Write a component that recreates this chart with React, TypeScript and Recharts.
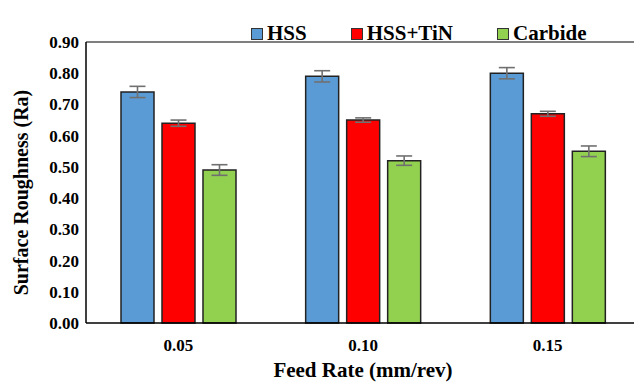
import { BarChart, Bar, XAxis, YAxis, ErrorBar, Legend, ReferenceLine } from "recharts";

const feedRates = ["0.05", "0.10", "0.15"];
const hss = [0.74, 0.79, 0.8];
const hssTin = [0.64, 0.65, 0.67];
const carbide = [0.49, 0.52, 0.55];
const hssErr = [0.018, 0.018, 0.018];
const hssTinErr = [0.01, 0.007, 0.008];
const carbideErr = [0.017, 0.015, 0.017];
const yTicks = [0, 0.1, 0.2, 0.3, 0.4, 0.5, 0.6, 0.7, 0.8, 0.9];

const SERIES = [
  { key: "hss", err: "hssErr", name: "HSS", color: "#5B9BD5" },
  { key: "hssTin", err: "hssTinErr", name: "HSS+TiN", color: "#FF0000" },
  { key: "carbide", err: "carbideErr", name: "Carbide", color: "#92D050" },
];

const data = feedRates.map((f, i) => ({
  feed: f,
  hss: hss[i],
  hssTin: hssTin[i],
  carbide: carbide[i],
  hssErr: hssErr[i],
  hssTinErr: hssTinErr[i],
  carbideErr: carbideErr[i],
}));

const font = "Liberation Serif";

function LegendContent() {
  return (
    <div style={{ display: "flex", gap: 44, fontFamily: font, fontWeight: "bold", fontSize: 21 }}>
      {SERIES.map((s) => (
        <div key={s.key} style={{ display: "flex", alignItems: "center" }}>
          <span
            style={{
              width: 10,
              height: 10,
              background: s.color,
              border: "1px solid #333",
              marginRight: 4,
              display: "inline-block",
            }}
          />
          <span>{s.name}</span>
        </div>
      ))}
    </div>
  );
}

// rotated y title, sits a bit below the plot centre like the original
function YTitle({ viewBox }: any) {
  const x = 28;
  const y = viewBox.y + viewBox.height / 2 + 10;
  return (
    <text
      x={x}
      y={y}
      transform={`rotate(-90, ${x}, ${y})`}
      textAnchor="middle"
      fill="#000"
      fontFamily={font}
      fontWeight="bold"
      fontSize={20}
    >
      Surface Roughness (Ra)
    </text>
  );
}

export default function App() {
  return (
    <div
      style={{
        position: "absolute",
        left: 0,
        top: 0,
        width: 634,
        height: 383,
        overflow: "hidden",
        background: "#fff",
        fontFamily: font,
      }}
    >
      <BarChart
        width={640}
        height={383}
        data={data}
        margin={{ top: 17, right: 0, left: 0, bottom: 0 }}
        barSize={33}
        barGap={8}
      >
        <ReferenceLine y={0.9} stroke="#000" strokeWidth={1.2} />
        <XAxis
          dataKey="feed"
          height={60}
          axisLine={{ stroke: "#000", strokeWidth: 1.5 }}
          tickLine={false}
          tick={{ fill: "#000", fontFamily: font, fontWeight: "bold", fontSize: 17 }}
          tickMargin={10}
          label={{
            value: "Feed Rate (mm/rev)",
            position: "insideBottom",
            offset: 6,
            fill: "#000",
            fontFamily: font,
            fontWeight: "bold",
            fontSize: 21,
          }}
        />
        <YAxis
          width={86}
          domain={[0, 0.9]}
          ticks={yTicks}
          interval={0}
          tickFormatter={(v: number) => v.toFixed(2)}
          axisLine={{ stroke: "#000", strokeWidth: 1.5 }}
          tickLine={false}
          tickMargin={1}
          tick={{ fill: "#000", fontFamily: font, fontWeight: "bold", fontSize: 17 }}
          label={<YTitle />}
        />
        <Legend
          content={<LegendContent />}
          verticalAlign="top"
          wrapperStyle={{ top: 21, left: 251, width: "auto" }}
        />
        {SERIES.map((s) => (
          <Bar
            key={s.key}
            dataKey={s.key}
            name={s.name}
            fill={s.color}
            stroke="#222"
            strokeWidth={1.5}
            isAnimationActive={false}
          >
            <ErrorBar dataKey={s.err} width={8} stroke="#707070" strokeWidth={1.6} />
          </Bar>
        ))}
      </BarChart>
    </div>
  );
}
